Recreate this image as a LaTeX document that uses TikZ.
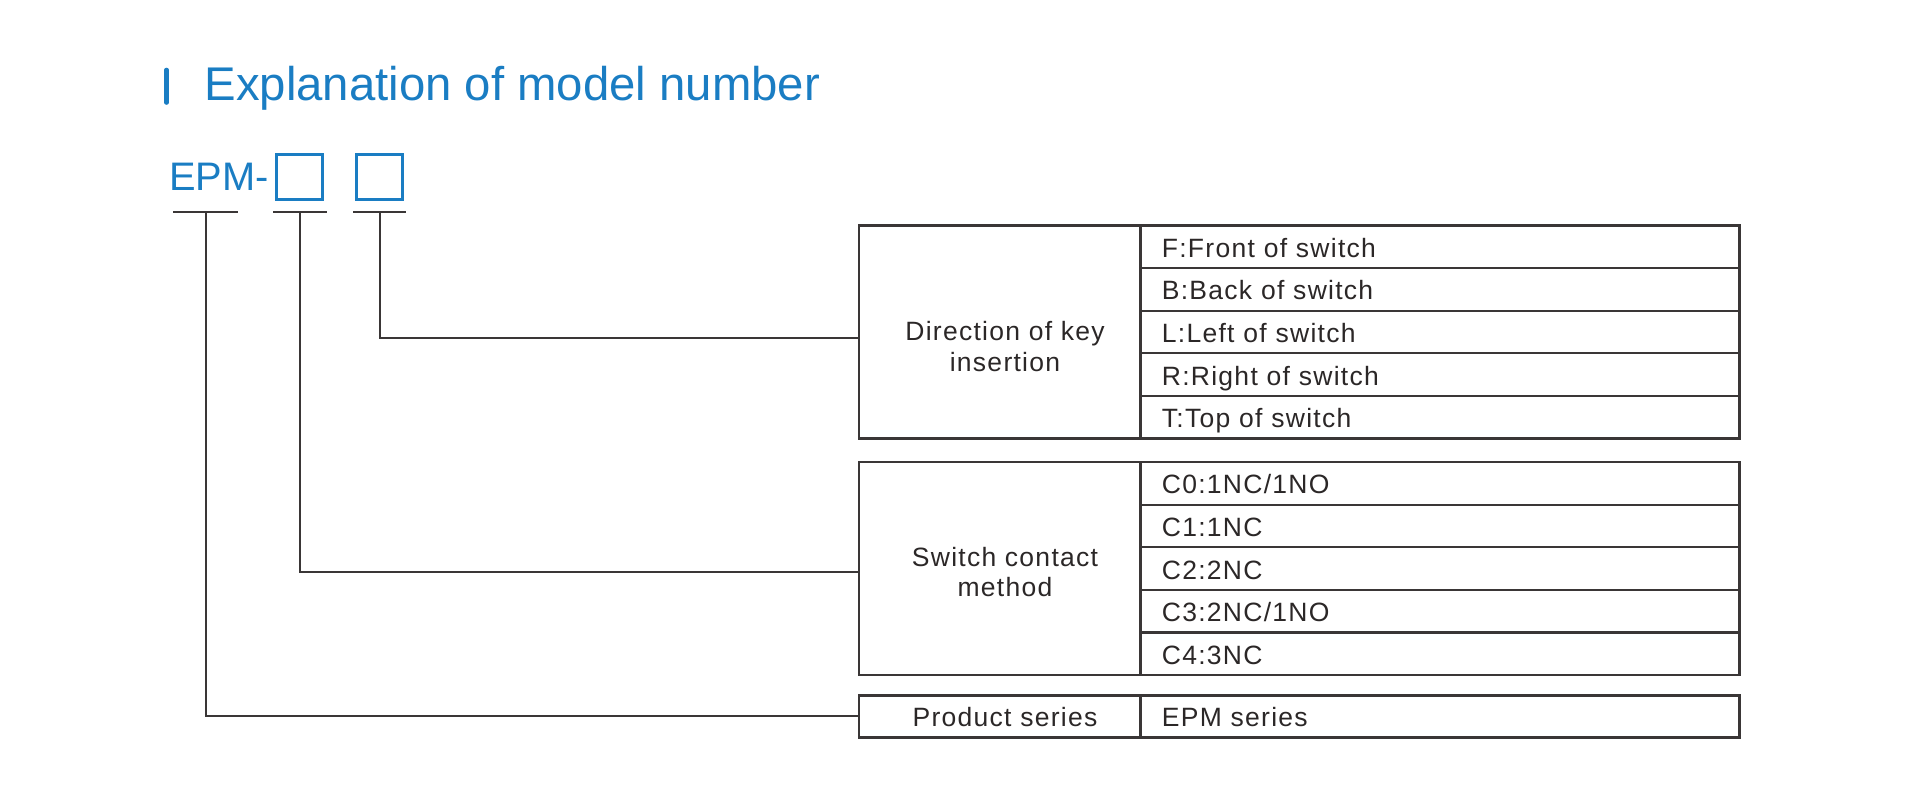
\documentclass[tikz,border=0pt]{standalone}
\usepackage{fontspec}
\setmainfont{Liberation Sans}
\newfontfamily\rowfont[LetterSpace=4.8]{Liberation Sans}
\definecolor{tblue}{HTML}{1A7DC3}
\definecolor{tline}{HTML}{3A3636}
\definecolor{ttext}{HTML}{2B2727}
\begin{document}
\begin{tikzpicture}[x=1pt,y=-1pt,
  rowcell/.style={draw=tline, line width=2.2pt, minimum height=42.6pt,
    text width=556pt, inner xsep=21.5pt, inner ysep=0pt, align=left,
    text height=21pt, text depth=0pt, text=ttext,
    font=\rowfont\fontsize{26.5}{30}\selectfont},
  keycell/.style={draw=tline, line width=2.2pt, inner sep=0pt, minimum width=281.2pt},
  keytxt/.style={anchor=base, inner sep=0pt, text=ttext,
    font=\rowfont\fontsize{26.5}{30}\selectfont},
  ubox/.style={draw=tblue, line width=2.6pt, inner sep=0pt, minimum width=46pt, minimum height=45.5pt},
  uline/.style={draw=tline, line width=2pt},
  conn/.style={draw=tline, line width=2pt}
]
\useasboundingbox (0,0) rectangle (1920,804);
% title
\draw[tblue, line width=4.6pt, line cap=round] (166.5,70) -- (166.5,102.5);
\node[anchor=base west, inner sep=0pt, text=tblue, font=\fontsize{47.3}{52}\selectfont] (title) at (204.5,100.5) {Explanation of model number};
% model code
\node[anchor=base west, inner sep=0pt, text=tblue, font=\fontsize{39.8}{44}\selectfont] (epm) at (169,190.5) {EPM-};
\node[ubox] (b1) at (299.4,177) {};
\node[ubox] (b2) at (379.4,177) {};
\coordinate (u1) at (205.8,211.7);
\coordinate (u2) at (300,211.7);
\coordinate (u3) at (379.6,211.7);
\draw[uline] ([xshift=-32.5pt]u1) -- ([xshift=32.5pt]u1);
\draw[uline] ([xshift=-26.7pt]u2) -- ([xshift=26.7pt]u2);
\draw[uline] ([xshift=-26.5pt]u3) -- ([xshift=26.5pt]u3);
% table 1
\node[keycell, minimum height=213pt] (k1) at (999.9,332) {};
\node[rowcell] (r11) at (1439.9,246.8) {F:Front of switch};
\node[rowcell] (r12) at (1439.9,289.4) {B:Back of switch};
\node[rowcell] (r13) at (1439.9,332.0) {L:Left of switch};
\node[rowcell] (r14) at (1439.9,374.6) {R:Right of switch};
\node[rowcell] (r15) at (1439.9,417.2) {T:Top of switch};
\node[keytxt] (k1a) at (1005,340.8) {Direction of key};
\node[keytxt] (k1b) at (1005,371.8) {insertion};
% table 2
\node[keycell, minimum height=213pt] (k2) at (999.9,568.5) {};
\node[rowcell] (r21) at (1439.9,483.3) {C0:1NC/1NO};
\node[rowcell] (r22) at (1439.9,525.9) {C1:1NC};
\node[rowcell] (r23) at (1439.9,568.5) {C2:2NC};
\node[rowcell] (r24) at (1439.9,611.1) {C3:2NC/1NO};
\node[rowcell] (r25) at (1439.9,653.7) {C4:3NC};
\node[keytxt] (k2a) at (1005,566.8) {Switch contact};
\node[keytxt] (k2b) at (1005,596.5) {method};
% table 3
\node[keycell, minimum height=42pt] (k3) at (999.9,716.4) {};
\node[rowcell, minimum height=42pt] (r31) at (1439.9,716.4) {EPM series};
\node[keytxt] (k3a) at (1005,726.5) {Product series};
% connectors
\draw[conn] (u3) |- ([yshift=-5.7pt]k1.west);
\draw[conn] (u2) |- ([yshift=-3.3pt]k2.west);
\draw[conn] (u1) |- (k3.west);
\end{tikzpicture}
\end{document}
